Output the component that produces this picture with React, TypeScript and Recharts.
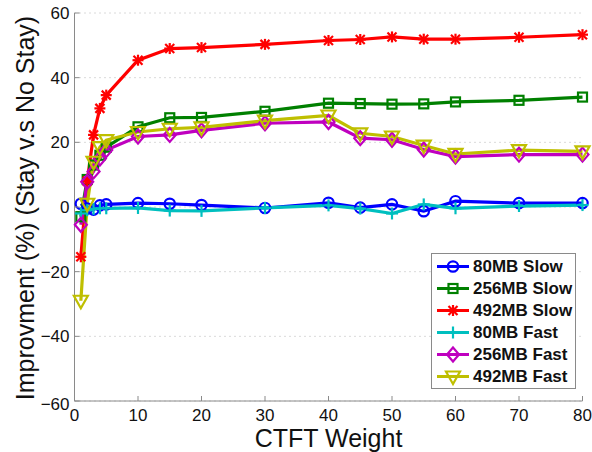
import { LineChart, Line, XAxis, YAxis, CartesianGrid } from "recharts";

// CTFT weights on the x axis
const weights = [1, 2, 3, 4, 5, 10, 15, 20, 30, 40, 45, 50, 55, 60, 70, 80];

// improvement (%) per configuration
const slow80 = [1, -0.5, -0.8, 0.5, 0.8, 1.2, 1, 0.6, -0.3, 1.3, -0.2, 0.8, -1.3, 1.8, 1.2, 1.2];
const slow256 = [-3, 8.5, 13, 16, 18.5, 24.8, 27.6, 27.7, 29.6, 32.1, 32, 31.8, 31.9, 32.5, 33, 34];
const slow492 = [-15.4, 8, 22.3, 30.5, 34.6, 45.4, 49, 49.3, 50.3, 51.5, 51.8, 52.6, 51.9, 51.9, 52.5, 53.3];
const fast80 = [-2, -1, -0.6, -0.4, -0.4, -0.3, -1.1, -1.2, -0.3, 0.5, -0.5, -2, 0.8, -0.4, 0.3, 0.6];
const fast256 = [-5.5, 7.8, 11, 15, 17.6, 21.8, 22.3, 23.7, 25.9, 26.3, 21.3, 20.8, 17.8, 15.6, 16.2, 16.2];
const fast492 = [-29, 1, 14, 18.5, 20.7, 23.2, 24.2, 24.6, 26.7, 28.3, 22.8, 21.8, 19, 16.4, 17.6, 17.2];

const xTicks = [0, 10, 20, 30, 40, 50, 60, 70, 80];
const yTicks = [-60, -40, -20, 0, 20, 40, 60];

type MarkerKind = "circle" | "square" | "star" | "plus" | "diamond" | "triangle";

const series: { key: string; name: string; color: string; marker: MarkerKind }[] = [
  { key: "s80", name: "80MB Slow", color: "#0000ff", marker: "circle" },
  { key: "s256", name: "256MB Slow", color: "#008000", marker: "square" },
  { key: "s492", name: "492MB Slow", color: "#ff0000", marker: "star" },
  { key: "f80", name: "80MB Fast", color: "#00bfbf", marker: "plus" },
  { key: "f256", name: "256MB Fast", color: "#bf00bf", marker: "diamond" },
  { key: "f492", name: "492MB Fast", color: "#bfbf00", marker: "triangle" },
];

const data = weights.map((x, i) => ({
  x,
  s80: slow80[i],
  s256: slow256[i],
  s492: slow492[i],
  f80: fast80[i],
  f256: fast256[i],
  f492: fast492[i],
}));

const AXIS = "#8a8a8a";
const FONT = "'Liberation Sans', Arial, sans-serif";

const Marker = ({ cx, cy, kind, color }: { cx: number; cy: number; kind: MarkerKind; color: string }) => {
  const sw = 2.2;
  switch (kind) {
    case "circle":
      return <circle cx={cx} cy={cy} r={5.2} fill="none" stroke={color} strokeWidth={sw} />;
    case "square":
      return <rect x={cx - 4.5} y={cy - 4.5} width={9} height={9} fill="none" stroke={color} strokeWidth={sw} />;
    case "star":
      return (
        <g stroke={color} strokeWidth={sw}>
          <line x1={cx - 4.5} y1={cy - 4.5} x2={cx + 4.5} y2={cy + 4.5} />
          <line x1={cx - 4.5} y1={cy + 4.5} x2={cx + 4.5} y2={cy - 4.5} />
          <line x1={cx} y1={cy - 5.5} x2={cx} y2={cy + 5.5} />
          <line x1={cx - 5.5} y1={cy} x2={cx + 5.5} y2={cy} />
        </g>
      );
    case "plus":
      return (
        <g stroke={color} strokeWidth={sw}>
          <line x1={cx} y1={cy - 6} x2={cx} y2={cy + 6} />
          <line x1={cx - 6} y1={cy} x2={cx + 6} y2={cy} />
        </g>
      );
    case "diamond":
      return (
        <polygon
          points={`${cx},${cy - 7} ${cx + 6},${cy} ${cx},${cy + 7} ${cx - 6},${cy}`}
          fill="none"
          stroke={color}
          strokeWidth={sw}
        />
      );
    case "triangle":
      return (
        <polygon
          points={`${cx - 7},${cy - 5} ${cx + 7},${cy - 5} ${cx},${cy + 7.5}`}
          fill="none"
          stroke={color}
          strokeWidth={sw}
        />
      );
  }
};

const fmt = (v: number) => (v < 0 ? `\u2212${Math.abs(v)}` : `${v}`);

const BottomTick = ({ x, y, payload }: any) => (
  <g>
    <line x1={x} x2={x} y1={y} y2={y - 5} stroke={AXIS} />
    <text x={x} y={y + 20} textAnchor="middle" fontSize={17} fill="#111" fontFamily={FONT}>
      {fmt(payload.value)}
    </text>
  </g>
);

const LeftTick = ({ x, y, payload }: any) => (
  <g>
    <line x1={x} x2={x + 5} y1={y} y2={y} stroke={AXIS} />
    <text
      x={x - 5}
      y={payload.value === -60 ? y + 3 : y}
      dy="0.35em"
      textAnchor="end"
      fontSize={17}
      fill="#111"
      fontFamily={FONT}
    >
      {fmt(payload.value)}
    </text>
  </g>
);

const TopTick = ({ x, y }: any) => <line x1={x} x2={x} y1={y} y2={y + 5} stroke={AXIS} />;
const RightTick = ({ x, y }: any) => <line x1={x} x2={x - 5} y1={y} y2={y} stroke={AXIS} />;

// legend box drawn over the plot's lower right corner
const LegendBox = () => (
  <svg width={145} height={136} style={{ position: "absolute", left: 431, top: 253 }}>
    <rect x={0.5} y={0.5} width={144} height={135} fill="#fff" stroke={AXIS} />
    {series.map((s, i) => {
      const cy = 13.5 + i * 22;
      return (
        <g key={s.key}>
          <line x1={6} x2={38} y1={cy} y2={cy} stroke={s.color} strokeWidth={3} />
          <Marker cx={22} cy={cy} kind={s.marker} color={s.color} />
          <text x={42} y={cy} dy="0.35em" fontSize={17} fontWeight="bold" fill="#111" fontFamily={FONT}>
            {s.name}
          </text>
        </g>
      );
    })}
  </svg>
);

export default function App() {
  return (
    <div style={{ position: "absolute", left: 0, top: 0, width: 592, height: 452, background: "#fff" }}>
      <LineChart width={592} height={452} data={data} margin={{ top: 13, right: 9.5, bottom: 0, left: 0 }}>
        <CartesianGrid vertical={false} stroke="#b5b5b5" strokeDasharray="1 4" />
        <XAxis
          dataKey="x"
          type="number"
          domain={[0, 80]}
          ticks={xTicks}
          height={51}
          tickSize={0}
          tickMargin={0}
          tickLine={false}
          axisLine={{ stroke: AXIS }}
          tick={<BottomTick />}
          interval={0}
          label={{ value: "CTFT Weight", position: "insideBottom", offset: 5, fontSize: 25, fill: "#111", fontFamily: FONT }}
        />
        <XAxis
          xAxisId="top"
          dataKey="x"
          type="number"
          orientation="top"
          domain={[0, 80]}
          ticks={xTicks}
          height={0}
          tickSize={0}
          tickMargin={0}
          tickLine={false}
          axisLine={{ stroke: AXIS }}
          tick={<TopTick />}
          interval={0}
        />
        <YAxis
          type="number"
          domain={[-60, 60]}
          ticks={yTicks}
          width={74.5}
          tickSize={0}
          tickMargin={0}
          tickLine={false}
          axisLine={{ stroke: AXIS }}
          tick={<LeftTick />}
          interval={0}
          label={{
            content: () => (
              <text
                transform="translate(25,208) rotate(-90)"
                textAnchor="middle"
                dominantBaseline="central"
                fontSize={25}
                fill="#111"
                fontFamily={FONT}
              >
                Improvment (%) (Stay v.s No Stay)
              </text>
            ),
          }}
        />
        <YAxis
          yAxisId="right"
          orientation="right"
          type="number"
          domain={[-60, 60]}
          ticks={yTicks}
          width={0}
          tickSize={0}
          tickMargin={0}
          tickLine={false}
          axisLine={{ stroke: AXIS }}
          tick={<RightTick />}
          interval={0}
        />
        {series.map((s) => (
          <Line
            key={s.key}
            dataKey={s.key}
            name={s.name}
            stroke={s.color}
            strokeWidth={3.2}
            isAnimationActive={false}
            dot={(p: any) => <Marker key={`${s.key}-${p.index}`} cx={p.cx} cy={p.cy} kind={s.marker} color={s.color} />}
            activeDot={false}
          />
        ))}
      </LineChart>
      <LegendBox />
    </div>
  );
}
